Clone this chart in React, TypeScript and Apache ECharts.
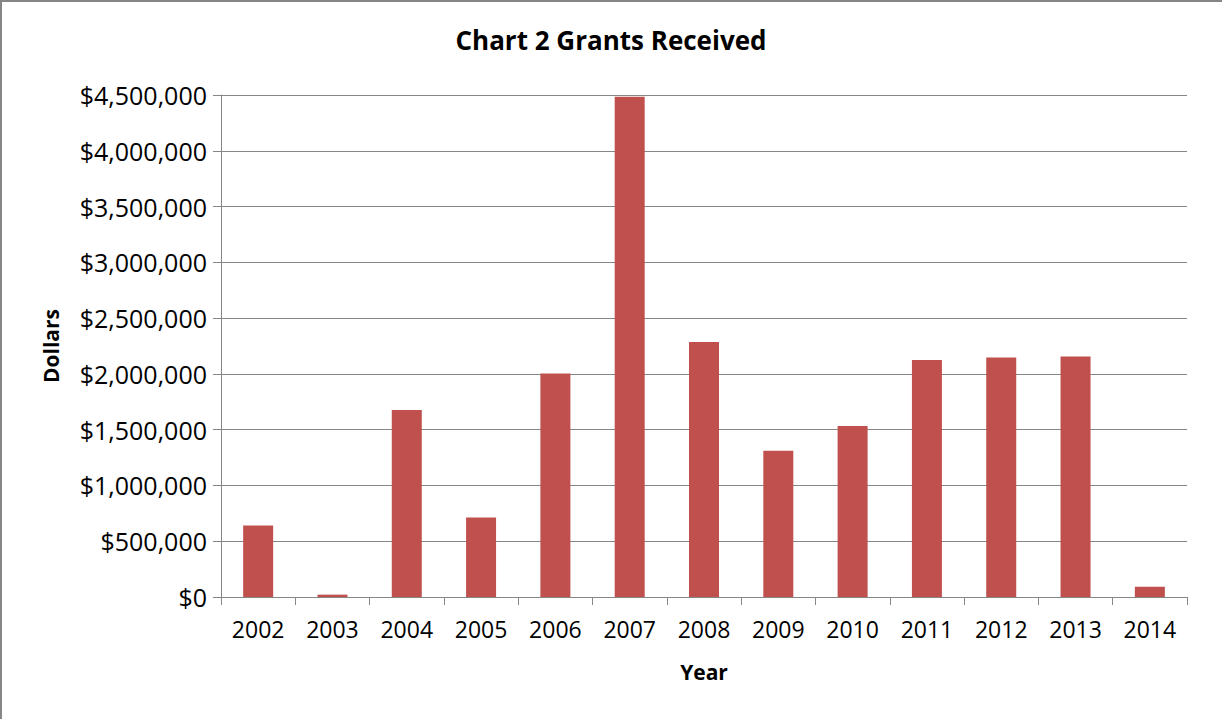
import React, { useEffect, useRef } from "react";
import * as echarts from "echarts";

const years = ["2002", "2003", "2004", "2005", "2006", "2007", "2008", "2009", "2010", "2011", "2012", "2013", "2014"];
const grants = [641000, 21000, 1676000, 713000, 2004000, 4485000, 2285000, 1311000, 1532000, 2124000, 2147000, 2156000, 92000];

const FONT = "'Open Sans', sans-serif";

export default function App() {
  const ref = useRef<HTMLDivElement>(null);
  useEffect(() => {
    if (!ref.current) return;
    const chart = echarts.init(ref.current, undefined, { renderer: "svg" });
    chart.setOption({
      animation: false,
      backgroundColor: "#ffffff",
      title: {
        text: "Chart 2 Grants Received",
        left: "center",
        top: 22,
        textStyle: { fontFamily: FONT, fontSize: 26, fontWeight: "bold", color: "#000" },
      },
      graphic: [
        {
          type: "line",
          shape: { x1: 0, y1: 1, x2: 1222, y2: 1 },
          style: { stroke: "#868686", lineWidth: 2 },
          silent: true,
        },
        {
          type: "line",
          shape: { x1: 1, y1: 0, x2: 1, y2: 719 },
          style: { stroke: "#868686", lineWidth: 2 },
          silent: true,
        },
      ],
      grid: { left: 221, right: 35, top: 95, bottom: 122, containLabel: false },
      xAxis: {
        type: "category",
        data: years,
        name: "Year",
        nameLocation: "middle",
        nameGap: 64,
        nameTextStyle: { fontFamily: FONT, fontSize: 21, fontWeight: "bold", color: "#000" },
        axisLine: { show: true, lineStyle: { color: "#868686", width: 1 } },
        axisTick: { show: true, length: 8, alignWithLabel: false, inside: false, lineStyle: { color: "#868686" } },
        axisLabel: { fontFamily: FONT, fontSize: 23, color: "#000", margin: 20 },
        splitLine: { show: false },
      },
      yAxis: {
        type: "value",
        min: 0,
        max: 4500000,
        interval: 500000,
        name: "Dollars",
        nameLocation: "middle",
        nameGap: 160,
        nameRotate: 90,
        nameTextStyle: { fontFamily: FONT, fontSize: 21, fontWeight: "bold", color: "#000" },
        axisLine: { show: true, lineStyle: { color: "#868686", width: 1 } },
        axisTick: { show: true, length: 8, lineStyle: { color: "#868686" } },
        axisLabel: {
          fontFamily: FONT,
          fontSize: 25,
          color: "#000",
          margin: 14,
          formatter: (v: number) => "$" + v.toLocaleString("en-US"),
        },
        splitLine: { show: true, lineStyle: { color: "#868686", width: 1 } },
      },
      series: [
        {
          type: "bar",
          data: grants,
          barWidth: 30,
          itemStyle: { color: "#c0504d" },
        },
      ],
    });
    return () => chart.dispose();
  }, []);
  return <div ref={ref} style={{ position: "fixed", left: 0, top: 0, width: 1222, height: 719 }} />;
}
